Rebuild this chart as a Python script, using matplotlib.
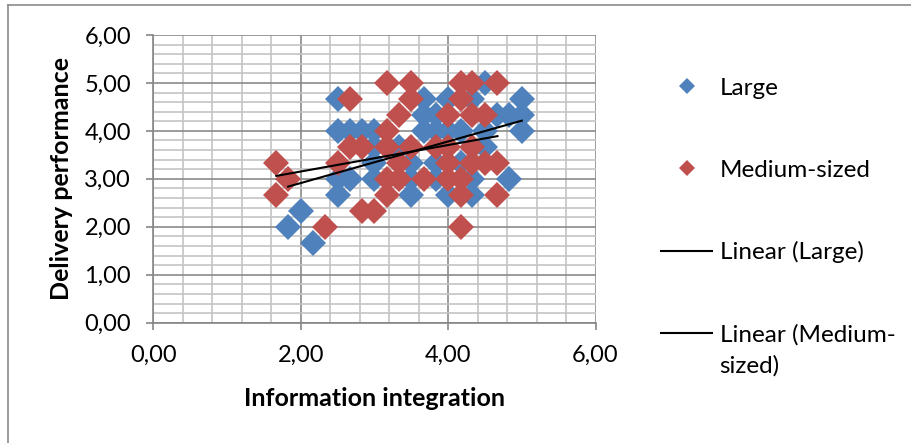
import matplotlib
matplotlib.use("Agg")
import matplotlib.pyplot as plt
from matplotlib.lines import Line2D
from matplotlib.ticker import MultipleLocator, FuncFormatter
import numpy as np

plt.rcParams['font.family'] = ['Lato', 'DejaVu Sans']

# Large firms: (information integration, delivery performance)
large_x = [1.83, 2.00, 2.17, 2.50, 2.50, 2.67, 2.83, 3.00, 2.50, 2.67,
           2.50, 3.00, 3.00, 3.00, 3.33, 3.50, 3.50, 3.50, 3.67, 3.67,
           3.67, 3.83, 3.83, 4.00, 4.00, 4.17, 4.33, 4.50, 4.50, 4.67,
           4.83, 5.00, 5.00, 5.00, 4.50, 3.83, 3.83, 4.33, 4.83, 4.00,
           4.33, 4.17]
large_y = [2.00, 2.33, 1.67, 4.67, 4.00, 4.00, 4.00, 4.00, 3.00, 3.00,
           2.67, 3.00, 3.33, 3.67, 3.67, 3.33, 3.00, 2.67, 4.67, 4.33,
           4.00, 4.33, 4.00, 4.67, 4.00, 4.00, 4.67, 5.00, 4.00, 4.33,
           4.33, 4.33, 4.67, 4.00, 3.67, 3.33, 3.00, 3.00, 3.00, 2.67,
           2.67, 3.33]

# Medium-sized firms
medium_x = [1.67, 1.83, 1.67, 2.33, 2.50, 2.67, 2.67, 2.83, 2.83, 3.00,
            3.17, 3.50, 3.50, 3.33, 3.17, 3.17, 3.50, 3.33, 3.17, 3.33,
            3.17, 3.67, 4.17, 4.33, 4.67, 4.17, 4.00, 4.33, 4.50, 3.83,
            4.00, 4.33, 4.00, 4.33, 4.50, 4.67, 4.00, 4.17, 4.17, 4.67,
            4.17]
medium_y = [3.33, 3.00, 2.67, 2.00, 3.33, 4.67, 3.67, 3.67, 2.33, 2.33,
            5.00, 5.00, 4.67, 4.33, 4.00, 3.67, 3.67, 3.33, 3.00, 3.00,
            2.67, 3.00, 5.00, 5.00, 5.00, 4.67, 4.33, 4.33, 4.33, 3.67,
            3.67, 3.67, 3.33, 3.33, 3.33, 3.33, 3.00, 3.00, 2.67, 2.67,
            2.00]

blue = '#4F81BD'
red = '#C0504D'

fig = plt.figure(figsize=(9.12, 4.43), dpi=100)
ax = fig.add_axes([0.168, 0.2716, 0.485, 0.6494])

ax.plot(large_x, large_y, 'D', color=blue, ms=13.3, mew=0, label='Large', zorder=3)
ax.plot(medium_x, medium_y, 'D', color=red, ms=13.3, mew=0, label='Medium-sized', zorder=3)

# linear trend lines
def trend(xs, ys):
    k, b = np.polyfit(xs, ys, 1)
    xx = np.array([min(xs), max(xs)])
    return xx, k * xx + b

tx, ty = trend(large_x, large_y)
ax.plot(tx, ty, color='black', lw=1.5, label='Linear (Large)', zorder=4)
tx, ty = trend(medium_x, medium_y)
ax.plot(tx, ty, color='black', lw=1.5, label='Linear (Medium-', zorder=4)

ax.set_xlim(0, 6)
ax.set_ylim(0, 6)
ax.xaxis.set_major_locator(MultipleLocator(2))
ax.xaxis.set_minor_locator(MultipleLocator(0.4))
ax.yaxis.set_major_locator(MultipleLocator(1))
ax.yaxis.set_minor_locator(MultipleLocator(0.2))
fmt = FuncFormatter(lambda v, p: f"{v:.2f}".replace('.', ','))
ax.xaxis.set_major_formatter(fmt)
ax.yaxis.set_major_formatter(fmt)

ax.grid(which='major', color='#8a8a8a', lw=1.2)
ax.grid(which='minor', color='#c4c4c4', lw=1.2)
ax.set_axisbelow(True)
for s in ['top', 'right']:
    ax.spines[s].set_visible(False)
for s in ['left', 'bottom']:
    ax.spines[s].set_color('#868686')
    ax.spines[s].set_linewidth(1.2)
ax.tick_params(which='major', length=5, width=1.2, color='#868686',
               labelsize=17, pad=11)
ax.tick_params(which='minor', length=0)

ax.set_xlabel('Information integration', fontsize=18, fontweight='bold', labelpad=15)
ax.set_ylabel('Delivery performance', fontsize=18, fontweight='bold', labelpad=8)

leg = ax.legend(loc='upper left', bbox_to_anchor=(1.127, 0.885), frameon=False,
                fontsize=17.5, labelspacing=2.5, handlelength=2.1,
                handletextpad=0.29, markerscale=0.65, borderaxespad=0)

# second line of the last legend label
fig.canvas.draw()
last = leg.get_texts()[-1]
bb = last.get_window_extent().transformed(fig.transFigure.inverted())
fig.text(bb.x0, bb.y0 - 0.02, 'sized)', fontsize=17.5, va='top', ha='left')

# chart border (left and top edges)
fig.add_artist(Line2D([0.009, 0.009], [0, 0.989], color='#8a8a8a', lw=1.2))
fig.add_artist(Line2D([0.009, 1.0], [0.989, 0.989], color='#8a8a8a', lw=1.2))

fig.savefig('out.png', dpi=100)
